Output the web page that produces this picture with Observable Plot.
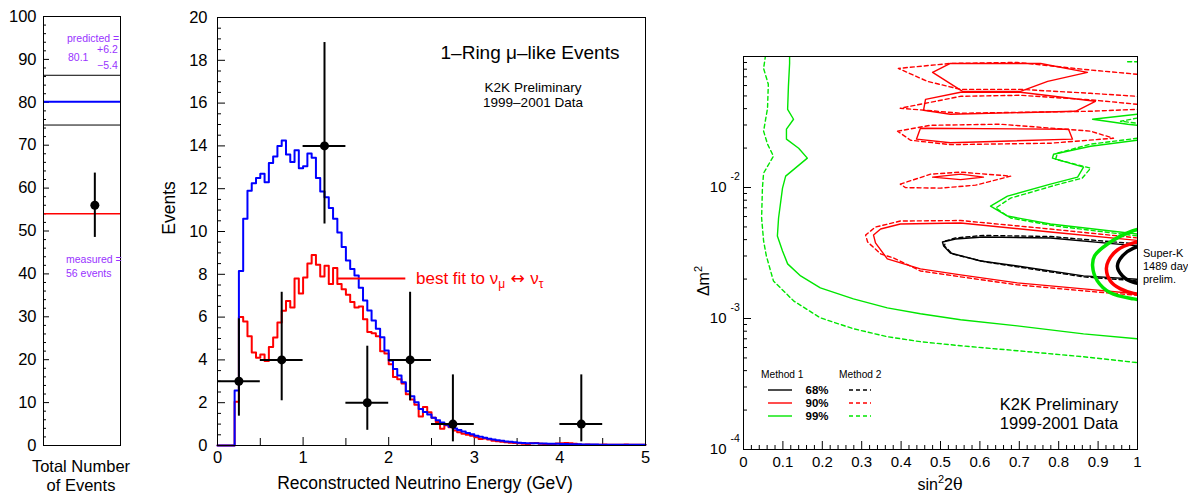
<!DOCTYPE html>
<html><head><meta charset="utf-8">
<script src="https://cdn.jsdelivr.net/npm/d3@7"></script>
<script src="https://cdn.jsdelivr.net/npm/@observablehq/plot@0.6"></script>
<style>
body{margin:0;background:#fff;}
#wrap{position:relative;width:1188px;height:498px;overflow:hidden;background:#fff;font-family:'Liberation Sans',Arial,Helvetica,sans-serif;}
#wrap svg{position:absolute;top:0;}
</style></head><body><div id="wrap"></div>
<script>
// ---------------- DATA ----------------
// Left panel: total number of events
const predictedTotal = [80.1];
const predictedBand = [86.3, 74.7];      // 80.1 +6.2 / -5.4
const bestFitTotal = [54];
const measuredTotal = [{x: 1, n: 56, lo: 48.5, hi: 63.5}];

// Middle panel: reconstructed neutrino energy histograms (0.05 GeV bins, 0-5 GeV)
const binWidth = 0.05;
const noOscillation = [
 0,0,0,0,2.57,8.15,10.6,11.9,12.25,12.5,
 12.7,12.3,13.2,13.5,14.0,14.25,13.6,13.25,13.8,12.95,
 13.05,13.65,13.45,12.5,11.87,11.6,11.1,10.6,9.95,9.28,
 8.64,8.25,7.94,7.37,6.78,6.31,5.84,5.45,5.06,4.44,
 3.97,3.58,3.27,2.96,2.54,2.3,2.02,1.71,1.56,1.45,
 1.3,1.18,1.07,0.97,0.88,0.8,0.72,0.65,0.58,0.52,
 0.46,0.41,0.36,0.32,0.28,0.25,0.22,0.19,0.17,0.15,
 0.13,0.12,0.11,0.1,0.1,0.09,0.09,0.08,0.08,0.08,
 0.07,0.07,0.06,0.06,0.06,0.05,0.05,0.05,0.05,0.04,
 0.04,0.04,0.04,0.04,0.03,0.03,0.03,0.03,0.03,0.03];
const bestFit = [
 0,0,0,0,2.05,6.0,5.8,5.1,4.35,4.1,
 4.25,3.95,4.6,5.05,5.75,6.3,6.75,6.45,7.8,7.1,
 7.85,8.5,8.9,8.45,7.9,8.4,7.55,8.3,7.55,7.3,
 7.05,6.7,6.45,6.5,5.9,5.3,5.25,5.1,4.4,4.3,
 3.8,3.2,3.1,2.9,2.4,2.15,1.9,1.35,1.8,1.55,
 1.3,1.1,0.78,0.95,0.85,0.7,0.62,0.55,0.5,0.45,
 0.38,0.3,0.33,0.28,0.22,0.2,0.17,0.15,0.13,0.12,
 0.1,0.08,0.06,0.1,0.12,0.08,0.07,0.06,0.05,0.09,
 0.1,0.12,0.1,0.08,0.05,0.04,0.05,0.04,0.03,0.04,
 0.05,0.04,0.03,0.04,0.03,0.05,0.04,0.03,0.03,0.04];
const dataEnergy = [0.25, 0.75, 1.25, 1.75, 2.25, 2.75, 4.25];
const dataEvents = [3, 4, 14, 2, 4, 1, 1];
const dataLow    = [1.37, 2.09, 10.35, 0.71, 2.09, 0.17, 0.17];
const dataHigh   = [5.92, 7.16, 18.83, 4.64, 7.16, 3.30, 3.30];
const dataHalfWidth = 0.25;
const bestFitLabelLevel = [{y: 7.8, x1: 1.4, x2: 2.2}];

// Right panel: allowed regions, points are [sin^2 2theta, log10(dm^2)]
const g99m1Main = [[0.117,-0.99],[0.117,-1.053],[0.114,-1.228],[0.112,-1.403],[0.127,-1.479],[0.109,-1.555],[0.109,-1.631],[0.140,-1.700],[0.162,-1.776],[0.107,-1.913],[0.099,-2.005],[0.089,-2.233],[0.086,-2.370],[0.099,-2.484],[0.112,-2.583],[0.145,-2.675],[0.195,-2.766],[0.279,-2.850],[0.365,-2.919],[0.449,-2.964],[0.551,-3.010],[0.695,-3.056],[0.863,-3.117],[1.0,-3.155]];
const g99m2Main = [[0.056,-0.99],[0.051,-1.091],[0.063,-1.212],[0.061,-1.395],[0.051,-1.570],[0.061,-1.669],[0.076,-1.761],[0.051,-1.890],[0.048,-2.005],[0.046,-2.233],[0.051,-2.408],[0.058,-2.522],[0.076,-2.713],[0.127,-2.865],[0.195,-2.995],[0.279,-3.078],[0.365,-3.139],[0.449,-3.177],[0.551,-3.208],[0.695,-3.246],[0.863,-3.292],[1.0,-3.337]];
const g99m1Upper = [[1.0,-1.639],[0.881,-1.685],[0.787,-1.746],[0.784,-1.776],[0.863,-1.845],[0.848,-1.921],[0.779,-1.974],[0.670,-2.066],[0.627,-2.142],[0.670,-2.218],[0.779,-2.279],[1.0,-2.355]];
const g99m2Upper = [[1.0,-1.624],[0.881,-1.669],[0.797,-1.738],[0.792,-1.784],[0.881,-1.852],[0.860,-1.928],[0.792,-1.982],[0.678,-2.081],[0.640,-2.157],[0.678,-2.233],[0.792,-2.294],[1.0,-2.370]];
const g99m1Wedge = [[1.0,-1.441],[0.886,-1.479],[0.975,-1.517],[1.0,-1.525]];
const g99m2Wedge = [[1.0,-1.47],[0.957,-1.494],[1.0,-1.51]];
const g99m2Corner = [[0.975,-1.04],[1.0,-1.04]];
const r90m1LobeA = [[0.480,-1.121],[0.525,-1.053],[0.754,-1.053],[0.873,-1.121],[0.772,-1.190],[0.703,-1.266],[0.556,-1.266],[0.480,-1.121]];
const r90m1LobeB = [[0.462,-1.327],[0.551,-1.273],[0.703,-1.273],[0.893,-1.342],[0.843,-1.418],[0.525,-1.441],[0.457,-1.410],[0.462,-1.327]];
const r90m1LobeC = [[0.449,-1.548],[0.825,-1.555],[0.835,-1.631],[0.525,-1.658],[0.439,-1.631],[0.449,-1.548]];
const r90m1LobeD = [[0.480,-1.921],[0.551,-1.898],[0.609,-1.921],[0.551,-1.940],[0.480,-1.921]];
const r90m1Main = [[1.0,-2.404],[0.779,-2.340],[0.551,-2.271],[0.398,-2.279],[0.348,-2.317],[0.330,-2.363],[0.335,-2.423],[0.365,-2.545],[0.449,-2.621],[0.551,-2.667],[0.695,-2.728],[0.863,-2.774],[1.0,-2.812]];
const r90m2LobeA = [[1.0,-1.136],[0.863,-1.098],[0.695,-1.045],[0.525,-1.053],[0.393,-1.091],[0.467,-1.190],[0.551,-1.251],[0.703,-1.251],[0.881,-1.281],[1.0,-1.304]];
const r90m2LobeB = [[1.0,-1.365],[0.893,-1.334],[0.703,-1.296],[0.551,-1.304],[0.398,-1.395],[0.551,-1.433],[0.881,-1.418],[1.0,-1.403]];
const r90m2LobeC = [[0.391,-1.570],[0.475,-1.525],[0.652,-1.517],[0.881,-1.570],[0.939,-1.624],[0.779,-1.662],[0.525,-1.673],[0.424,-1.639],[0.391,-1.570]];
const r90m2LobeD = [[0.398,-1.974],[0.475,-1.898],[0.551,-1.883],[0.678,-1.913],[0.589,-1.982],[0.500,-2.005],[0.411,-2.001],[0.398,-1.974]];
const r90m2Main = [[1.0,-2.385],[0.779,-2.317],[0.551,-2.252],[0.398,-2.256],[0.335,-2.302],[0.310,-2.363],[0.315,-2.416],[0.348,-2.507],[0.381,-2.538],[0.449,-2.637],[0.551,-2.682],[0.695,-2.743],[0.863,-2.789],[1.0,-2.823]];
const b68m1 = [[1.0,-2.446],[0.779,-2.385],[0.609,-2.378],[0.538,-2.393],[0.505,-2.416],[0.508,-2.446],[0.525,-2.500],[0.602,-2.561],[0.695,-2.599],[0.863,-2.675],[1.0,-2.701]];
const b68m2 = [[1.0,-2.431],[0.779,-2.374],[0.609,-2.366],[0.538,-2.385],[0.513,-2.408],[0.510,-2.446],[0.530,-2.507],[0.614,-2.568],[0.695,-2.606],[0.863,-2.682],[1.0,-2.713]];
const skGreen = [[1.033,-2.302],[0.987,-2.332],[0.924,-2.431],[0.891,-2.522],[0.886,-2.599],[0.898,-2.713],[0.931,-2.804],[0.990,-2.850],[1.033,-2.865]];
const skRed = [[1.033,-2.401],[0.990,-2.423],[0.949,-2.477],[0.926,-2.561],[0.921,-2.621],[0.931,-2.713],[0.957,-2.774],[0.990,-2.808],[1.033,-2.819]];
const skBlack = [[1.033,-2.439],[0.990,-2.462],[0.962,-2.522],[0.949,-2.599],[0.962,-2.675],[0.990,-2.724],[1.033,-2.736]];

// ---------------- RENDER ----------------
const FF = "'Liberation Sans', Arial, Helvetica, sans-serif";
const RED = "#ff0000", BLUE = "#0000ff", GREEN = "#00e600", PURPLE = "#9933ff";
const wrap = document.getElementById("wrap");
function place(el, left) { el.style.left = left + "px"; wrap.appendChild(el); }
const baseStyle = (fs) => ({fontFamily: FF, fontSize: fs, color: "black", background: "transparent", overflow: "visible"});

// ---- Left panel
{
  const W = 130, ml = 43, mr = 10, mt = 16, mb = 53;
  const fw = W - ml - mr;
  const minor = d3.range(0, 101, 2).filter(v => v % 10 !== 0);
  const major = d3.range(0, 101, 10);
  const svg = Plot.plot({
    width: W, height: 498, marginLeft: ml, marginRight: mr, marginTop: mt, marginBottom: mb,
    style: baseStyle("16.5px"),
    x: {domain: [0, 1.5], axis: null},
    y: {domain: [0, 100]},
    marks: [
      Plot.tickY(minor, {y: d => d, insetRight: fw - 3}),
      Plot.tickY(major, {y: d => d, insetRight: fw - 6}),
      Plot.axisY({ticks: major, tickSize: 0, tickPadding: 7, label: null, tickFormat: d => String(d)}),
      Plot.ruleY(predictedBand, {stroke: "black", strokeWidth: 1}),
      Plot.ruleY(predictedTotal, {stroke: BLUE, strokeWidth: 2}),
      Plot.ruleY(bestFitTotal, {stroke: RED, strokeWidth: 1.5}),
      Plot.ruleX(measuredTotal, {x: "x", y1: "lo", y2: "hi", strokeWidth: 2}),
      Plot.dot(measuredTotal, {x: "x", y: "n", r: 4.5, fill: "black", stroke: null}),
      Plot.frame({stroke: "black"})
    ]
  });
  place(svg, 0);
}

// ---- Middle panel
{
  const W = 500, ml = 57, mr = 15, mt = 17, mb = 53;
  const fw = W - ml - mr, fh = 498 - mt - mb;
  const edges = d3.range(101).map(i => +(i * binWidth).toFixed(2));
  const steps = vals => edges.map((e, i) => ({e, v: vals[Math.min(i, vals.length - 1)]}));
  const pts = dataEnergy.map((e, i) => ({e, n: dataEvents[i], lo: dataLow[i], hi: dataHigh[i]}));
  const yMajor = d3.range(0, 21, 2);
  const yMinor = d3.range(0, 20.01, 0.5).filter(v => v % 2 !== 0);
  const xMajor = d3.range(0, 6, 1);
  const xMinor = d3.range(0.5, 5, 1);
  const svg = Plot.plot({
    width: W, height: 498, marginLeft: ml, marginRight: mr, marginTop: mt, marginBottom: mb,
    style: baseStyle("16.5px"),
    x: {domain: [0, 5]},
    y: {domain: [0, 20]},
    marks: [
      Plot.tickY(yMinor, {y: d => d, insetRight: fw - 4}),
      Plot.tickY(yMajor, {y: d => d, insetRight: fw - 8}),
      Plot.tickX(xMinor, {x: d => d, insetTop: fh - 7}),
      Plot.tickX(xMajor, {x: d => d, insetTop: fh - 8}),
      Plot.axisY({ticks: yMajor, tickSize: 0, tickPadding: 10, label: null, tickFormat: d => String(d)}),
      Plot.axisX({ticks: xMajor, tickSize: 0, tickPadding: 6, label: null, tickFormat: d => String(d)}),
      Plot.line(steps(bestFit), {x: "e", y: "v", curve: "step-after", stroke: RED, strokeWidth: 2}),
      Plot.line(steps(noOscillation), {x: "e", y: "v", curve: "step-after", stroke: BLUE, strokeWidth: 2}),
      Plot.ruleY(bestFitLabelLevel, {y: "y", x1: "x1", x2: "x2", stroke: RED, strokeWidth: 2}),
      Plot.ruleX(pts, {x: "e", y1: "lo", y2: "hi", strokeWidth: 2}),
      Plot.ruleY(pts, {y: "n", x1: d => d.e - dataHalfWidth, x2: d => d.e + dataHalfWidth, strokeWidth: 2}),
      Plot.dot(pts, {x: "e", y: "n", r: 4.5, fill: "black", stroke: null}),
      Plot.frame({stroke: "black"})
    ]
  });
  place(svg, 160);
}

// ---- Right panel
{
  const W = 508, ml = 63, mr = 51, mt = 56, mb = 49;
  const fw = W - ml - mr, fh = 498 - mt - mb;
  const toPts = arr => arr.map(([s, l]) => ({s, dm: Math.pow(10, l)}));
  const contours = [
    {d: g99m2Main, c: GREEN, dash: true}, {d: g99m1Main, c: GREEN},
    {d: g99m2Upper, c: GREEN, dash: true}, {d: g99m1Upper, c: GREEN},
    {d: g99m2Wedge, c: GREEN, dash: true}, {d: g99m1Wedge, c: GREEN},
    {d: g99m2Corner, c: GREEN, dash: true},
    {d: r90m2LobeA, c: RED, dash: true}, {d: r90m1LobeA, c: RED},
    {d: r90m2LobeB, c: RED, dash: true}, {d: r90m1LobeB, c: RED},
    {d: r90m2LobeC, c: RED, dash: true}, {d: r90m1LobeC, c: RED},
    {d: r90m2LobeD, c: RED, dash: true}, {d: r90m1LobeD, c: RED},
    {d: r90m2Main, c: RED, dash: true}, {d: r90m1Main, c: RED},
    {d: b68m2, c: "black", dash: true}, {d: b68m1, c: "black"}
  ];
  const superK = [{d: skGreen, c: GREEN}, {d: skRed, c: RED}, {d: skBlack, c: "black"}];
  const decades = [1e-4, 1e-3, 1e-2, 1e-1];
  const yMinor = [];
  for (const d of [1e-4, 1e-3, 1e-2]) for (let k = 2; k <= 9; k++) yMinor.push(k * d);
  const xMajor = d3.range(0, 11).map(i => i / 10);
  const xMinor = d3.range(0, 51).filter(i => i % 5 !== 0).map(i => i / 50);
  const svg = Plot.plot({
    width: W, height: 498, marginLeft: ml, marginRight: mr, marginTop: mt, marginBottom: mb,
    style: baseStyle("15px"),
    x: {domain: [0, 1]},
    y: {type: "log", domain: [1e-4, 1e-1], axis: null},
    marks: [
      Plot.tickY(yMinor, {y: d => d, insetRight: fw - 4}),
      Plot.tickY(decades, {y: d => d, insetRight: fw - 8}),
      Plot.tickX(xMinor, {x: d => d, insetTop: fh - 4}),
      Plot.tickX(xMajor, {x: d => d, insetTop: fh - 8}),
      Plot.axisX({ticks: xMajor, tickSize: 0, tickPadding: 7, label: null,
        tickFormat: d => (d === 0 || d === 1) ? String(d) : d.toFixed(1)}),
      Plot.text(decades.slice(0, 3), {y: d => d, text: () => "10", frameAnchor: "left", textAnchor: "end", dx: -17, fontSize: 15}),
      Plot.text(decades.slice(0, 3), {y: d => d, text: d => String(Math.round(Math.log10(d))), frameAnchor: "left", textAnchor: "start", dx: -13, dy: -11, fontSize: 10.5}),
      ...contours.map(c => Plot.line(toPts(c.d), {x: "s", y: "dm", stroke: c.c, strokeWidth: 1.4,
        strokeDasharray: c.dash ? "4,3" : null, clip: true})),
      ...superK.map(c => Plot.line(toPts(c.d), {x: "s", y: "dm", stroke: c.c, strokeWidth: 3.5,
        curve: "catmull-rom", clip: true})),
      Plot.frame({stroke: "black"})
    ]
  });
  place(svg, 680);
}

// ---- Text overlay (titles, annotations, legend)
const ov = `
<svg width="1188" height="498" xmlns="http://www.w3.org/2000/svg" style="left:0;pointer-events:none" font-family="${FF}">
  <g fill="${PURPLE}" font-size="10.5">
    <text x="67" y="42">predicted =</text>
    <text x="68" y="61">80.1</text>
    <text x="97" y="53">+6.2</text>
    <text x="97" y="69">−5.4</text>
    <text x="66" y="263">measured =</text>
    <text x="66" y="277">56 events</text>
  </g>
  <g font-size="16.5" text-anchor="middle">
    <text x="81" y="472">Total Number</text>
    <text x="81" y="491">of Events</text>
  </g>
  <text transform="translate(175,208) rotate(-90)" text-anchor="middle" font-size="17.5">Events</text>
  <text x="425" y="489" text-anchor="middle" font-size="17.5">Reconstructed Neutrino Energy (GeV)</text>
  <text x="530" y="59" text-anchor="middle" font-size="19">1–Ring μ–like Events</text>
  <text x="533" y="92" text-anchor="middle" font-size="13.5">K2K Preliminary</text>
  <text x="533" y="107" text-anchor="middle" font-size="13.5">1999–2001 Data</text>
  <text x="416" y="284" font-size="17" fill="${RED}">best fit to ν<tspan font-size="12" dy="4">μ</tspan><tspan dy="-4" font-family="'DejaVu Sans', sans-serif"> ↔ </tspan><tspan>ν</tspan><tspan font-size="12" dy="4">τ</tspan></text>
  <text transform="translate(709,281) rotate(-90)" text-anchor="middle" font-size="16">Δm<tspan font-size="11" dy="-7">2</tspan></text>
  <text x="940" y="490" text-anchor="middle" font-size="16">sin<tspan font-size="11" dy="-7">2</tspan><tspan dy="7">2</tspan><tspan font-family="'DejaVu Serif', serif">θ</tspan></text>
  <g font-size="16.5" text-anchor="middle">
    <text x="1059" y="410">K2K Preliminary</text>
    <text x="1059" y="429">1999-2001 Data</text>
  </g>
  <g font-size="11">
    <text x="1143" y="257">Super-K</text>
    <text x="1143" y="270">1489 day</text>
    <text x="1143" y="283">prelim.</text>
  </g>
  <g font-size="10.2">
    <text x="761" y="378">Method 1</text>
    <text x="839" y="378">Method 2</text>
  </g>
  <g font-size="11.5" font-weight="bold" text-anchor="middle">
    <text x="817" y="394">68%</text>
    <text x="817" y="407">90%</text>
    <text x="817" y="420">99%</text>
  </g>
  <g stroke-width="1.4">
    <line x1="768" x2="792" y1="390" y2="390" stroke="black"/>
    <line x1="768" x2="792" y1="403" y2="403" stroke="${RED}"/>
    <line x1="768" x2="792" y1="416" y2="416" stroke="${GREEN}"/>
    <line x1="849" x2="871" y1="390" y2="390" stroke="black" stroke-dasharray="4,3"/>
    <line x1="849" x2="871" y1="403" y2="403" stroke="${RED}" stroke-dasharray="4,3"/>
    <line x1="849" x2="871" y1="416" y2="416" stroke="${GREEN}" stroke-dasharray="4,3"/>
  </g>
</svg>`;
wrap.insertAdjacentHTML("beforeend", ov);
</script></body></html>
